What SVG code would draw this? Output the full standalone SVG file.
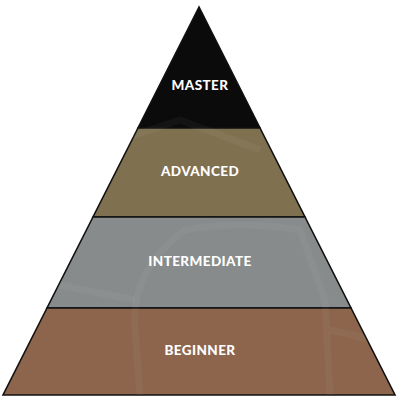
<svg xmlns="http://www.w3.org/2000/svg" width="400" height="400" viewBox="0 0 400 400">
<style>
.band{stroke:#111;stroke-width:1.6;stroke-linejoin:miter}
.lbl{font-family:Lato,"Open Sans","Liberation Sans",sans-serif;font-weight:900;font-size:13.5px;fill:#fff;text-anchor:middle;letter-spacing:0.4px}
.tex{fill:none;stroke:#fff;stroke-opacity:0.04;stroke-width:7}
</style>
<defs>
<clipPath id="tri"><polygon points="199,7 3,395 395,395"/></clipPath>
</defs>
<rect width="400" height="400" fill="#fff"/>
<g id="master">
<polygon class="band" points="199,7 138,128 260,128" fill="#0b0b0b"/>
<text class="lbl" x="200" y="90">MASTER</text>
</g>
<g id="advanced">
<polygon class="band" points="138,128 260,128 305,217 93,217" fill="#7f7150"/>
<text class="lbl" x="200" y="176">ADVANCED</text>
</g>
<g id="intermediate">
<polygon class="band" points="93,217 305,217 351,308 47,308" fill="#878b8b"/>
<text class="lbl" x="200" y="266">INTERMEDIATE</text>
</g>
<g id="beginner">
<polygon class="band" points="47,308 351,308 395,395 3,395" fill="#8c654c"/>
<text class="lbl" x="200" y="355">BEGINNER</text>
</g>
<g id="texture" clip-path="url(#tri)">
<path class="tex" d="M140,395 L135,330 Q130,270 185,230 Q240,220 300,230 L325,300 L330,395"/>
<path class="tex" d="M3,290 L60,285 L135,300"/>
<path class="tex" d="M330,330 L395,345"/>
<path class="tex" d="M120,140 L180,120 L260,150"/>
</g>
</svg>
